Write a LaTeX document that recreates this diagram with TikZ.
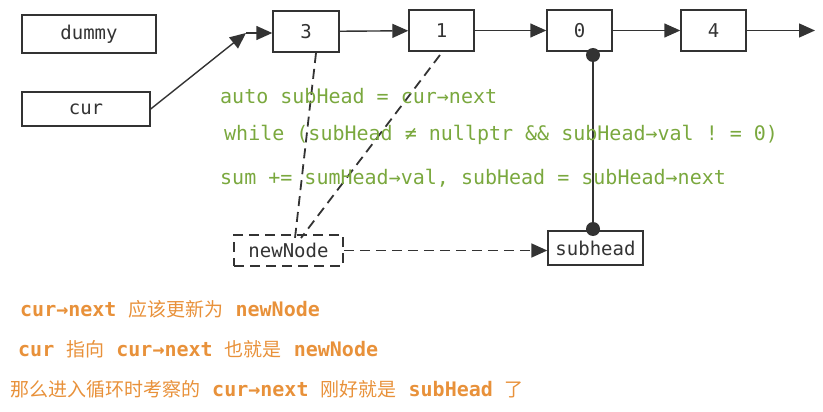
\documentclass[tikz,border=0pt]{standalone}
\usepackage{fontspec}
\setmonofont{DejaVu Sans Mono}
\newfontfamily\cjkfont{Noto Sans CJK SC}
\usetikzlibrary{arrows.meta}
\definecolor{codegreen}{HTML}{7AA83E}
\definecolor{noteorange}{HTML}{E8913A}
\definecolor{boxgray}{HTML}{333333}
\newcommand{\zh}[1]{{\cjkfont\mdseries\fontsize{19}{24}\selectfont #1}}

\begin{document}
\begin{tikzpicture}[x=1pt,y=-1pt,
  box/.style={draw=boxgray, line width=1.4pt, inner sep=0pt, text=boxgray,
    font=\ttfamily\fontsize{19}{20}\selectfont},
  link/.style={-{Triangle[length=16pt,width=14pt]}, line width=1.4pt, draw=boxgray},
  dashline/.style={line width=1.8pt, draw=boxgray, dash pattern=on 10pt off 6pt},
  code/.style={anchor=west, inner sep=0pt, text=codegreen,
    font=\ttfamily\fontsize{20}{24}\selectfont},
  note/.style={anchor=west, inner sep=0pt, text=noteorange,
    font=\ttfamily\bfseries\fontsize{20}{24}\selectfont}]
  \useasboundingbox (0,0) rectangle (823,412);
  % list nodes
  \node[box, minimum width=134pt, minimum height=38pt] (dummy) at (89,34) {dummy};
  \node[box, minimum width=128pt, minimum height=34pt] (cur) at (86,109) {cur};
  \node[box, minimum width=66pt, minimum height=41pt] (n3) at (306,31.5) {3};
  \node[box, minimum width=65pt, minimum height=41pt] (n1) at (441.5,30.5) {1};
  \node[box, minimum width=65pt, minimum height=41pt] (n0) at (579.5,30.5) {0};
  \node[box, minimum width=65pt, minimum height=41pt] (n4) at (713.5,30.5) {4};
  \node[box, dashline, minimum width=109pt, minimum height=31pt] (new) at (288.5,250.5) {newNode};
  \node[box, minimum width=95pt, minimum height=34pt] (sub) at (595.5,248) {subhead};
  \coordinate (bend) at (246,33);
  \coordinate (tail) at (815,30.5);
  \coordinate (p3) at (316,53);
  \coordinate (p1) at (440,55);
  \coordinate (q3) at (295,238);
  \coordinate (q1) at (301,238);
  \coordinate (top0) at (593,55);
  \coordinate (topsub) at (593,229);
  % links
  \draw[link] (cur.east) -- (bend);
  \draw[link] (bend) -- (n3.west |- bend);
  \draw[link] (n3) -- (n1);
  \draw[link] (n1) -- (n0);
  \draw[link] (n0) -- (n4);
  \draw[link] (n4.east) -- (tail);
  \draw[dashline] (p3) -- (q3);
  \draw[dashline] (p1) -- (q1);
  \draw[link, dashline] (new.east) -- (new.east -| sub.west);
  \draw[line width=1.4pt, draw=boxgray] (top0) -- (topsub);
  \fill[boxgray] (top0) circle[radius=7pt];
  \fill[boxgray] (topsub) circle[radius=7pt];
  % code lines
  \node[code] (l1) at (220,96) {auto subHead = cur→next};
  \node[code] (l2) at (224,135) {while (subHead ≠ nullptr \&\& subHead→val ! = 0)};
  \node[code] (l3) at (220,178) {sum += sumHead→val, subHead = subHead→next};
  % notes
  \node[note] (t1) at (20,309) {cur→next \zh{应该更新为} newNode};
  \node[note] (t2) at (18,349) {cur \zh{指向} cur→next \zh{也就是} newNode};
  \node[note] (t3) at (10,389) {\zh{那么进入循环时考察的} cur→next \zh{刚好就是} subHead \zh{了}};
\end{tikzpicture}
\end{document}
